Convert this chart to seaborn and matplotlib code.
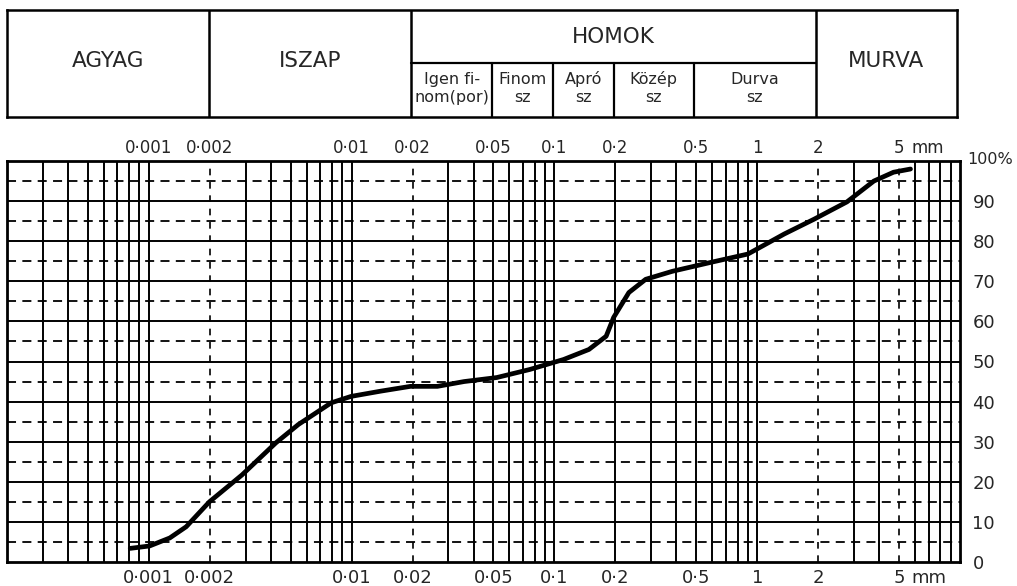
import numpy as np
import pandas as pd
import matplotlib
matplotlib.use("Agg")
import matplotlib.pyplot as plt
import seaborn as sns

# grain size (mm) vs. percentage passing
grain_size = [0.00081, 0.00101, 0.00127, 0.00153, 0.00199, 0.00288, 0.00423, 0.00547,
              0.00794, 0.00995, 0.0139, 0.0195, 0.0265, 0.0359, 0.052, 0.0755, 0.111,
              0.148, 0.18, 0.196, 0.233, 0.282, 0.382, 0.6, 0.9, 1.36, 1.91, 2.77,
              3.76, 4.7, 5.7]
passing = [3.4, 4, 6, 8.8, 15, 21.7, 29.7, 34.3, 39.7, 41.3, 42.6, 43.8, 43.8, 45, 46,
           48, 50.5, 53, 56.3, 61, 67.2, 70.5, 72.5, 74.8, 76.8, 81.8, 85.5, 89.8, 95,
           97.2, 98]

x_ticks = [0.001, 0.002, 0.01, 0.02, 0.05, 0.1, 0.2, 0.5, 1, 2, 5]
x_ticklabels = ["0·001", "0·002", "0·01", "0·02", "0·05", "0·1", "0·2", "0·5", "1", "2", "5"]
y_ticks = [0, 10, 20, 30, 40, 50, 60, 70, 80, 90, 100]
y_ticklabels = ["0", "10", "20", "30", "40", "50", "60", "70", "80", "90", "100%"]
dashed_sizes = [0.002, 0.02, 2, 5]

# soil classes for the header table
main_bounds = [0.0002, 0.002, 0.02, 2, 10]
main_names = ["AGYAG", "ISZAP", "HOMOK", "MURVA"]
sand_bounds = [0.02, 0.05, 0.1, 0.2, 0.5, 2]
sand_names = ["Igen fi-\nnom(por)", "Finom\nsz", "Apró\nsz", "Közép\nsz", "Durva\nsz"]

xmin, xmax = 0.0002, 10

sns.set_style("white")
plt.rcParams['font.family'] = ['DejaVu Sans']

fig = plt.figure(figsize=(10.17, 5.86), dpi=100)
ax = fig.add_axes([7 / 1017, 1 - 562 / 586, 953 / 1017, 401 / 586])
hx = fig.add_axes([7 / 1017, 1 - 117 / 586, 950 / 1017, 107 / 586])

# ---- grid of the chart
ax.set_xscale("log")
ax.set_xlim(xmin, xmax)
ax.set_ylim(0, 100)

grid_x = np.array([n * 10.0 ** k for k in range(-4, 2) for n in range(1, 10)])
grid_x = grid_x[(grid_x > xmin * 1.01) & (grid_x < xmax * 0.99)]
for gx in grid_x:
    if any(np.isclose(gx, d) for d in dashed_sizes):
        continue
    ax.axvline(gx, color="black", lw=1.4, zorder=1)
for gx in dashed_sizes:
    ax.axvline(gx, color="black", lw=1.2, dashes=(4, 4), zorder=1)
for gy in range(10, 100, 10):
    ax.axhline(gy, color="black", lw=1.4, zorder=1)
for gy in range(5, 100, 10):
    ax.axhline(gy, color="black", lw=1.3, dashes=(5, 3.5), zorder=1)

df = pd.DataFrame({"size": grain_size, "passing": passing})
sns.lineplot(data=df, x="size", y="passing", ax=ax, color="black", lw=3.4,
             solid_capstyle="round", solid_joinstyle="round", zorder=3)

ax.set_xlabel("")
ax.set_ylabel("")
for s in ax.spines.values():
    s.set_linewidth(2.0)
    s.set_color("black")

ax.xaxis.set_minor_locator(matplotlib.ticker.NullLocator())
ax.set_xticks(x_ticks)
ax.set_xticklabels(x_ticklabels)
ax.tick_params(axis="x", length=0, pad=5, labelsize=13)

# right-hand scale; the top "100%" is written separately so it fits the page
ax.yaxis.tick_right()
ax.set_yticks(y_ticks)
ax.set_yticklabels(y_ticklabels[:-1] + [""])
ax.tick_params(axis="y", length=0, pad=9, labelsize=13)
ax.annotate(y_ticklabels[-1], xy=(1, y_ticks[-1]), xycoords=("axes fraction", "data"),
            xytext=(5, 1), textcoords="offset points", ha="left", va="center",
            fontsize=11.5)

top = ax.secondary_xaxis("top")
top.xaxis.set_minor_locator(matplotlib.ticker.NullLocator())
top.set_xticks(x_ticks)
top.set_xticklabels(x_ticklabels)
top.tick_params(length=0, pad=3, labelsize=12)
top.spines["top"].set_visible(False)

ax.annotate("mm", xy=(5, 0), xycoords=("data", "axes fraction"), xytext=(9, -5),
            textcoords="offset points", ha="left", va="top", fontsize=13)
ax.annotate("mm", xy=(5, 1), xycoords=("data", "axes fraction"), xytext=(9, 3),
            textcoords="offset points", ha="left", va="bottom", fontsize=12)

# ---- header table
hx.set_xscale("log")
hx.set_xlim(xmin, xmax)
hx.set_ylim(0, 1)
hx.set_xticks([])
hx.set_yticks([])
hx.xaxis.set_minor_locator(matplotlib.ticker.NullLocator())
for s in hx.spines.values():
    s.set_linewidth(1.8)
    s.set_color("black")

for b in main_bounds[1:-1]:
    hx.axvline(b, color="black", lw=1.8)
hx.plot([sand_bounds[0], sand_bounds[-1]], [0.505, 0.505], color="black", lw=1.6)
for b in sand_bounds[1:-1]:
    hx.plot([b, b], [0, 0.505], color="black", lw=1.6)

for lo, hi, name in zip(main_bounds[:-1], main_bounds[1:], main_names):
    yy = 0.75 if name == "HOMOK" else 0.52
    hx.text(np.sqrt(lo * hi), yy, name, ha="center", va="center", fontsize=15.5)
for lo, hi, name in zip(sand_bounds[:-1], sand_bounds[1:], sand_names):
    hx.text(np.sqrt(lo * hi), 0.27, name, ha="center", va="center", fontsize=11.5,
            linespacing=1.25)

plt.savefig("out.png", dpi=100)
